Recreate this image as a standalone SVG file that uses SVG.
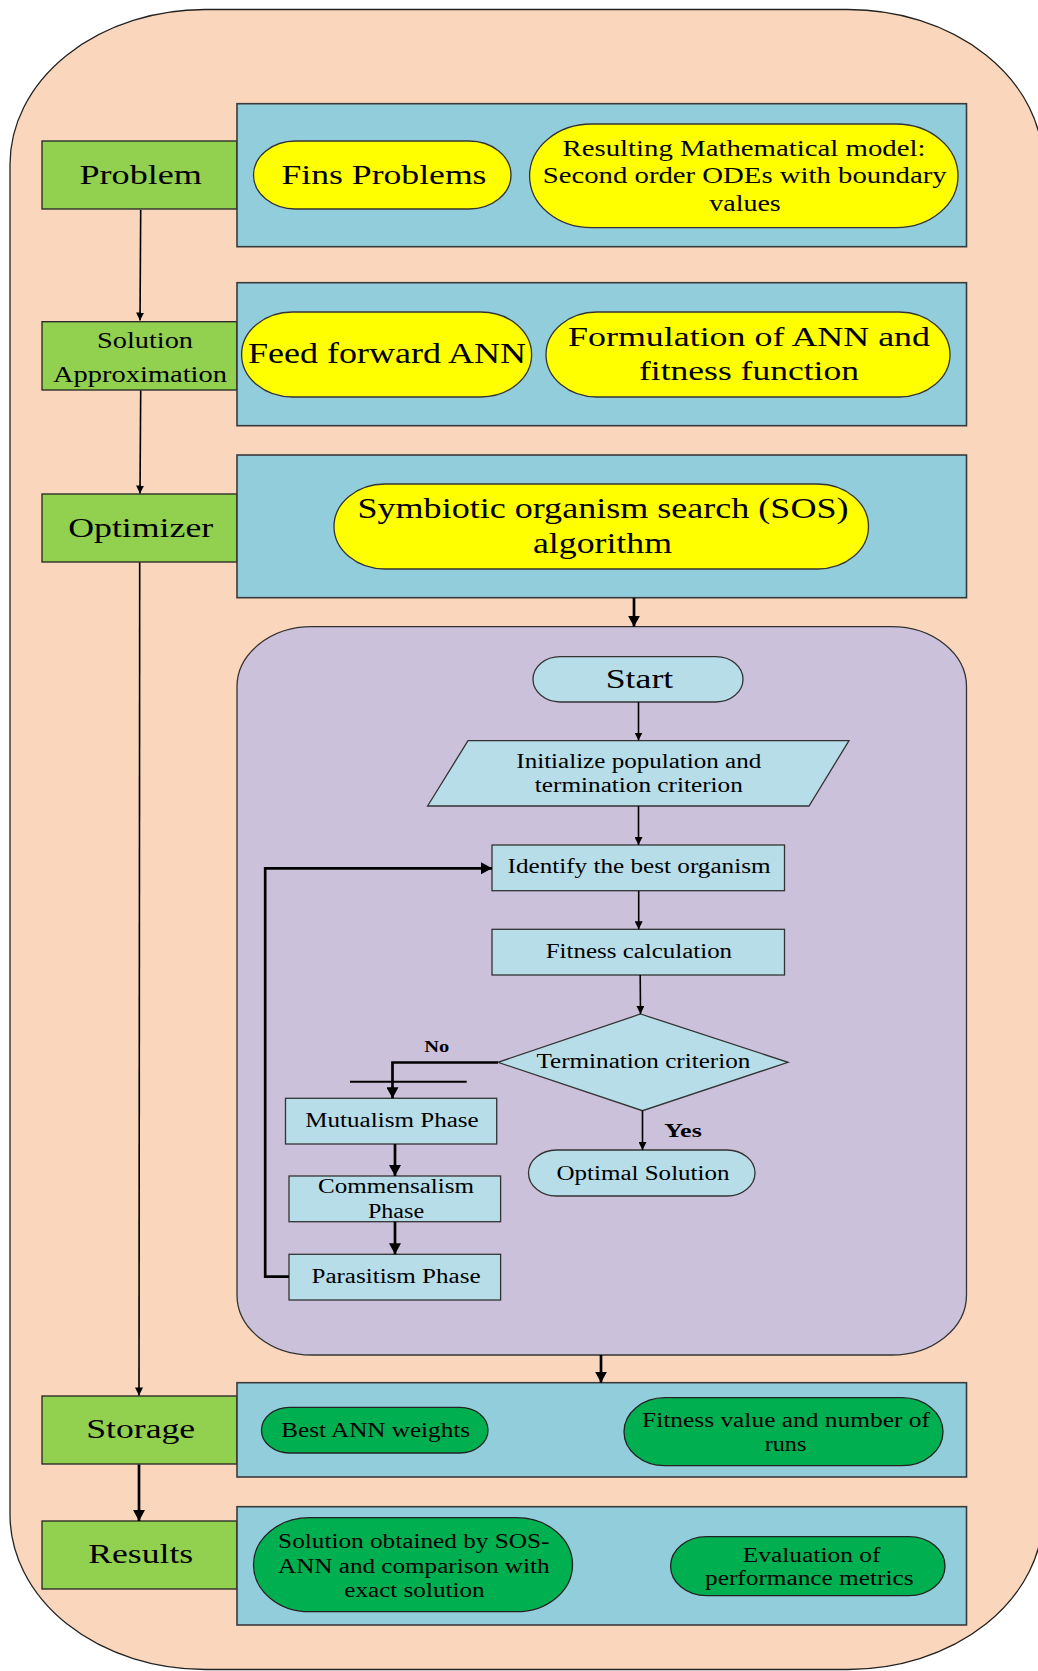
<svg xmlns="http://www.w3.org/2000/svg" width="1038" height="1671" viewBox="0 0 1038 1671">
<style>
.outer{fill:#FAD7BC;stroke:#222;stroke-width:1.3}
.lbl{fill:#92D050;stroke:#222;stroke-width:1.3}
.pan{fill:#92CDDC;stroke:#3a3a3a;stroke-width:1.6}
.yel{fill:#FFFF00;stroke:#333;stroke-width:1.3}
.grn{fill:#00B050;stroke:#222;stroke-width:1.3}
.pur{fill:#CCC1DA;stroke:#333;stroke-width:1.3}
.lb{fill:#B7DDE8;stroke:#333;stroke-width:1.3}
text{font-family:"Liberation Serif","Times New Roman",serif;fill:#000;text-anchor:middle}
.t28{font-size:28px}
.t22{font-size:22.5px}
.t20{font-size:20.5px}
.tb{font-weight:bold}
.thin{stroke:#000;stroke-width:1.6;fill:none}
.thick{stroke:#000;stroke-width:2.7;fill:none}
</style>
<defs>
<marker id="aS" viewBox="0 0 8 8" refX="8" refY="4" markerWidth="8" markerHeight="8" markerUnits="userSpaceOnUse" orient="auto"><path d="M0,0 L8,4 L0,8 z" fill="#000"/></marker>
<marker id="aL" viewBox="0 0 11 12" refX="11" refY="6" markerWidth="11" markerHeight="12" markerUnits="userSpaceOnUse" orient="auto"><path d="M0,0 L11,6 L0,12 z" fill="#000"/></marker>
</defs>

<g id="frame"><rect class="outer" x="10" y="9.5" width="1033" height="1660" rx="195" ry="155"/></g>

<g id="problem-label"><rect class="lbl" x="42" y="141" width="195" height="68"/><text class="t28" x="140.7" y="184.3" textLength="122.5" lengthAdjust="spacingAndGlyphs">Problem</text></g>
<g id="problem-panel"><rect class="pan" x="237" y="103.7" width="729.5" height="143"/></g>
<g id="fins"><rect class="yel" x="253.5" y="141" width="257.5" height="68" rx="42" ry="34"/><text class="t28" x="384" y="184.3" textLength="205" lengthAdjust="spacingAndGlyphs">Fins Problems</text></g>
<g id="model"><rect class="yel" x="529.6" y="124" width="428.4" height="103.7" rx="62" ry="51.8"/>
<text class="t22" x="744" y="155.7" textLength="363" lengthAdjust="spacingAndGlyphs">Resulting Mathematical model:</text>
<text class="t22" x="744.7" y="183.3" textLength="404" lengthAdjust="spacingAndGlyphs">Second order ODEs with boundary</text>
<text class="t22" x="745" y="211" textLength="71.5" lengthAdjust="spacingAndGlyphs">values</text></g>

<g id="solution-label"><rect class="lbl" x="42" y="321.7" width="195" height="68.3"/>
<text class="t22" x="145" y="347.7" textLength="96" lengthAdjust="spacingAndGlyphs">Solution</text>
<text class="t22" x="140" y="381.7" textLength="174" lengthAdjust="spacingAndGlyphs">Approximation</text></g>
<g id="solution-panel"><rect class="pan" x="237" y="282.7" width="729.5" height="143"/></g>
<g id="ffann"><rect class="yel" x="241.6" y="312" width="290" height="85" rx="51" ry="42.5"/><text style="font-size:28.5px" x="387" y="363.3" textLength="278" lengthAdjust="spacingAndGlyphs">Feed forward ANN</text></g>
<g id="formulation"><rect class="yel" x="546" y="312" width="404" height="85" rx="51" ry="42.5"/>
<text class="t28" x="749" y="345.7" textLength="362" lengthAdjust="spacingAndGlyphs">Formulation of ANN and</text>
<text class="t28" x="749" y="380" textLength="220" lengthAdjust="spacingAndGlyphs">fitness function</text></g>

<g id="optimizer-label"><rect class="lbl" x="42" y="494" width="195" height="68"/><text class="t28" x="140.7" y="536.7" textLength="145" lengthAdjust="spacingAndGlyphs">Optimizer</text></g>
<g id="optimizer-panel"><rect class="pan" x="237" y="455" width="729.5" height="142.7"/></g>
<g id="sos"><rect class="yel" x="334" y="484" width="534.5" height="85" rx="51" ry="42.5"/>
<text style="font-size:28.5px" x="603" y="518.3" textLength="491" lengthAdjust="spacingAndGlyphs">Symbiotic organism search (SOS)</text>
<text style="font-size:28.5px" x="602.5" y="553.3" textLength="139" lengthAdjust="spacingAndGlyphs">algorithm</text></g>

<g id="sos-flow"><rect class="pur" x="237" y="626.7" width="729.5" height="728.3" rx="75" ry="60"/></g>
<g id="start"><rect class="lb" x="533" y="656.7" width="210" height="45.3" rx="27" ry="22.7"/><text style="font-size:27.5px" x="639.5" y="688.3" textLength="67.5" lengthAdjust="spacingAndGlyphs">Start</text></g>
<g id="init"><polygon class="lb" points="468,740.7 849,740.7 809,806 427.6,806"/>
<text class="t20" x="638.8" y="768.3" textLength="245" lengthAdjust="spacingAndGlyphs">Initialize population and</text>
<text class="t20" x="638.8" y="791.7" textLength="208" lengthAdjust="spacingAndGlyphs">termination criterion</text></g>
<g id="identify"><rect class="lb" x="492" y="845" width="292.5" height="45.7"/><text class="t20" x="639" y="873" textLength="263" lengthAdjust="spacingAndGlyphs">Identify the best organism</text></g>
<g id="fitness"><rect class="lb" x="492" y="929.3" width="292.5" height="45.7"/><text class="t20" x="638.9" y="958.3" textLength="186.4" lengthAdjust="spacingAndGlyphs">Fitness calculation</text></g>
<g id="termination"><polygon class="lb" points="640.6,1014 788,1062.3 642.5,1110.7 498,1062.3"/><text class="t20" x="643.4" y="1068.3" textLength="214" lengthAdjust="spacingAndGlyphs">Termination criterion</text></g>
<g id="mutualism"><rect class="lb" x="285.5" y="1098.3" width="211.2" height="45.7"/><text class="t20" x="392" y="1126.7" textLength="173.4" lengthAdjust="spacingAndGlyphs">Mutualism Phase</text></g>
<g id="commensalism"><rect class="lb" x="289" y="1176" width="211.6" height="45.7"/>
<text class="t20" x="396" y="1193.3" textLength="155.8" lengthAdjust="spacingAndGlyphs">Commensalism</text>
<text class="t20" x="396" y="1217.7" textLength="56.2" lengthAdjust="spacingAndGlyphs">Phase</text></g>
<g id="parasitism"><rect class="lb" x="289" y="1254.3" width="211.6" height="45.7"/><text class="t20" x="396" y="1283.3" textLength="169" lengthAdjust="spacingAndGlyphs">Parasitism Phase</text></g>
<g id="optimal"><rect class="lb" x="528.5" y="1150" width="226.5" height="46" rx="28" ry="23"/><text class="t20" x="643" y="1180" textLength="173" lengthAdjust="spacingAndGlyphs">Optimal Solution</text></g>

<g id="storage-label"><rect class="lbl" x="42" y="1396" width="195" height="68"/><text class="t28" x="140.7" y="1438.3" textLength="109" lengthAdjust="spacingAndGlyphs">Storage</text></g>
<g id="storage-panel"><rect class="pan" x="237" y="1382.7" width="729.5" height="94.3"/></g>
<g id="best-ann"><rect class="grn" x="261.5" y="1407.3" width="226.5" height="45.7" rx="28" ry="22.8"/><text class="t20" x="375.7" y="1436.7" textLength="188.7" lengthAdjust="spacingAndGlyphs">Best ANN weights</text></g>
<g id="fitness-runs"><rect class="grn" x="624" y="1397.7" width="319" height="68" rx="41" ry="34"/>
<text class="t20" x="786" y="1426.7" textLength="288" lengthAdjust="spacingAndGlyphs">Fitness value and number of</text>
<text class="t20" x="785.5" y="1450.7" textLength="41.7" lengthAdjust="spacingAndGlyphs">runs</text></g>

<g id="results-label"><rect class="lbl" x="42" y="1521" width="195" height="68"/><text class="t28" x="140.7" y="1563.3" textLength="105" lengthAdjust="spacingAndGlyphs">Results</text></g>
<g id="results-panel"><rect class="pan" x="237" y="1506.7" width="729.5" height="118.3"/></g>
<g id="sos-ann"><rect class="grn" x="253.5" y="1517.7" width="319" height="94" rx="56" ry="47"/>
<text class="t20" x="413.8" y="1548.3" textLength="271.4" lengthAdjust="spacingAndGlyphs">Solution obtained by SOS-</text>
<text class="t20" x="413.8" y="1572.7" textLength="271.4" lengthAdjust="spacingAndGlyphs">ANN and comparison with</text>
<text class="t20" x="414.4" y="1596.7" textLength="140.3" lengthAdjust="spacingAndGlyphs">exact solution</text></g>
<g id="evaluation"><rect class="grn" x="670.6" y="1536.7" width="274.4" height="59" rx="36" ry="29.5"/>
<text class="t20" x="811.6" y="1561.7" textLength="137.7" lengthAdjust="spacingAndGlyphs">Evaluation of</text>
<text class="t20" x="809.3" y="1585" textLength="208.5" lengthAdjust="spacingAndGlyphs">performance metrics</text></g>

<g id="connectors">
<line class="thin" x1="140.7" y1="210" x2="140" y2="320.5" marker-end="url(#aS)"/>
<line class="thin" x1="140.7" y1="390.5" x2="140" y2="493.5" marker-end="url(#aS)"/>
<line class="thin" x1="139.7" y1="562.5" x2="139" y2="1395.5" marker-end="url(#aS)"/>
<line class="thick" x1="139" y1="1464.5" x2="139" y2="1521" marker-end="url(#aL)"/>
<line class="thick" x1="634" y1="598" x2="634" y2="626.7" marker-end="url(#aL)"/>
<line class="thin" x1="638.5" y1="702" x2="638.5" y2="740.5" marker-end="url(#aS)"/>
<line class="thin" x1="638.5" y1="806" x2="638.5" y2="845" marker-end="url(#aS)"/>
<line class="thin" x1="638.7" y1="891" x2="638.7" y2="929.3" marker-end="url(#aS)"/>
<line class="thin" x1="640.2" y1="975" x2="640.5" y2="1014" marker-end="url(#aS)"/>
<line class="thin" x1="642.5" y1="1110.7" x2="642.5" y2="1150" marker-end="url(#aS)"/>
<path class="thick" d="M498,1062.5 H392.5 V1098.3" marker-end="url(#aL)"/>
<line x1="350" y1="1081.7" x2="466.7" y2="1081.7" stroke="#000" stroke-width="2"/>
<line class="thick" x1="395" y1="1144" x2="395" y2="1176" marker-end="url(#aL)"/>
<line class="thick" x1="395" y1="1221.7" x2="395" y2="1254.3" marker-end="url(#aL)"/>
<path class="thick" d="M289,1276.7 H265.2 V868.3 H492" marker-end="url(#aL)"/>
<line class="thick" x1="601" y1="1355" x2="601" y2="1382.7" marker-end="url(#aL)"/>
<text class="tb" style="font-size:16px" x="436.7" y="1052" textLength="25" lengthAdjust="spacingAndGlyphs">No</text>
<text class="tb" style="font-size:19px" x="683" y="1137.3" textLength="37.5" lengthAdjust="spacingAndGlyphs">Yes</text>
</g>
</svg>
